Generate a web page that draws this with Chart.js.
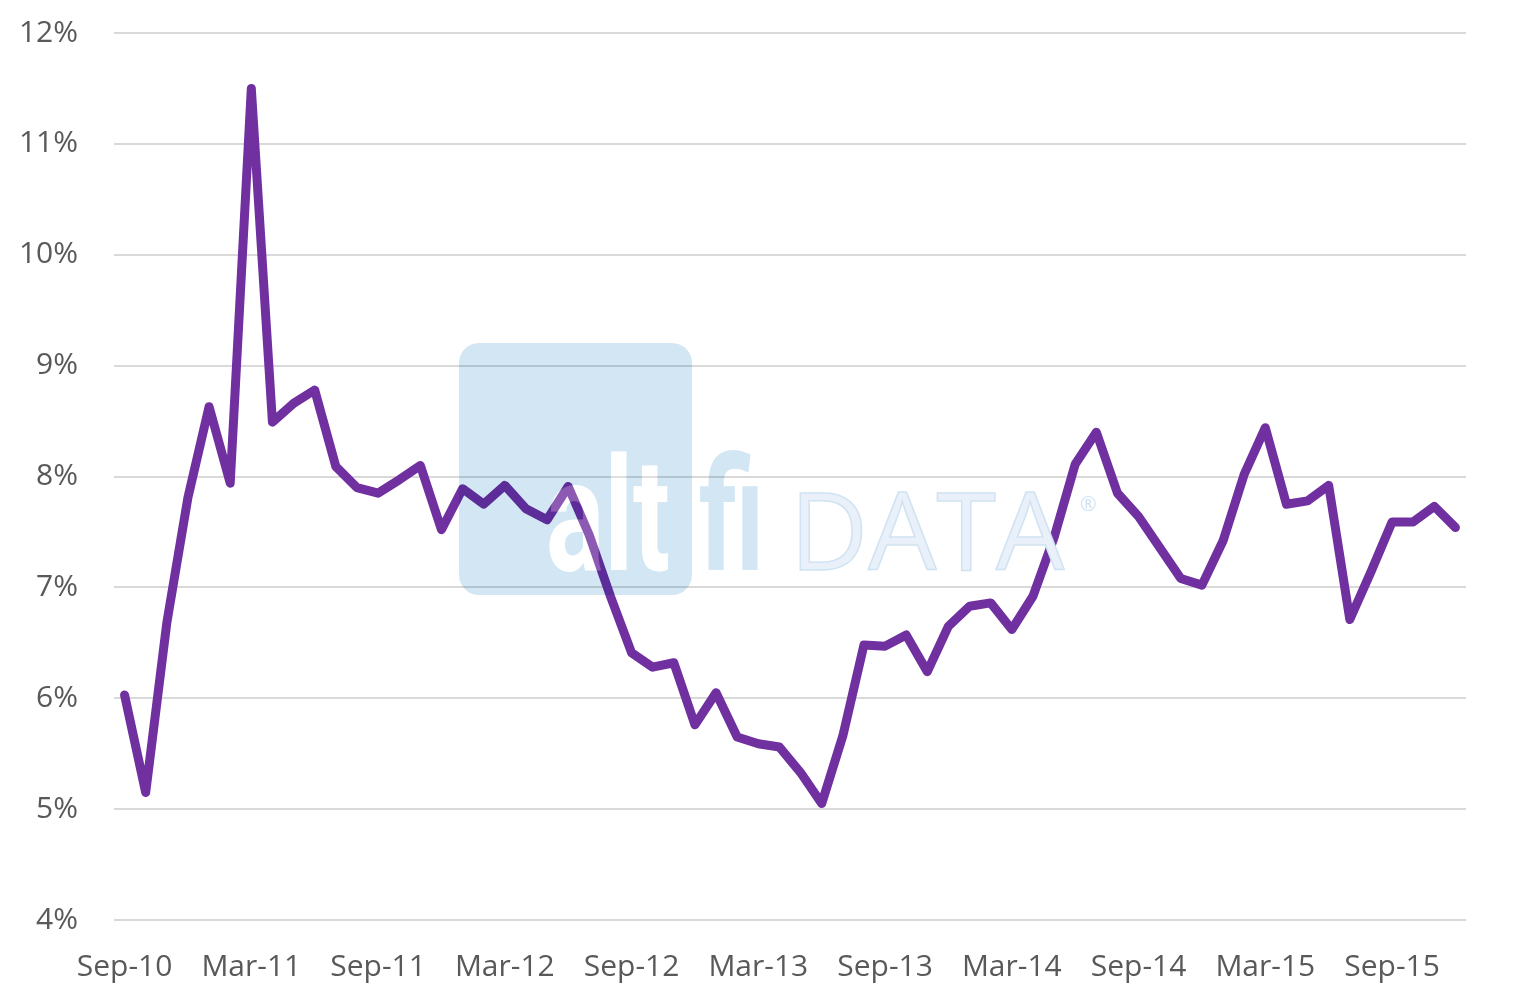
<!DOCTYPE html>
<html>
<head>
<meta charset="utf-8">
<script src="https://cdn.jsdelivr.net/npm/chart.js@4.4.1/dist/chart.umd.min.js"></script>
<style>
	html, body { margin: 0; padding: 0; background: #fff; }
	#myChart { display: block; }
</style>
</head>
<body>
<canvas id="myChart" width="1528" height="997" style="width:1528px;height:997px"></canvas>
<script>
	// monthly data, Sep-10 .. Dec-15
	const months = ['Sep-10','Oct-10','Nov-10','Dec-10',
		'Jan-11','Feb-11','Mar-11','Apr-11','May-11','Jun-11','Jul-11','Aug-11','Sep-11','Oct-11','Nov-11','Dec-11',
		'Jan-12','Feb-12','Mar-12','Apr-12','May-12','Jun-12','Jul-12','Aug-12','Sep-12','Oct-12','Nov-12','Dec-12',
		'Jan-13','Feb-13','Mar-13','Apr-13','May-13','Jun-13','Jul-13','Aug-13','Sep-13','Oct-13','Nov-13','Dec-13',
		'Jan-14','Feb-14','Mar-14','Apr-14','May-14','Jun-14','Jul-14','Aug-14','Sep-14','Oct-14','Nov-14','Dec-14',
		'Jan-15','Feb-15','Mar-15','Apr-15','May-15','Jun-15','Jul-15','Aug-15','Sep-15','Oct-15','Nov-15','Dec-15'];

	const rates = [6.03, 5.15, 6.68, 7.81,
		8.63, 7.94, 11.50, 8.49, 8.66, 8.78, 8.09, 7.90, 7.85, 7.97, 8.10, 7.52,
		7.89, 7.75, 7.92, 7.71, 7.61, 7.91, 7.47, 6.92, 6.41, 6.28, 6.32, 5.76,
		6.05, 5.65, 5.59, 5.56, 5.33, 5.05, 5.66, 6.48, 6.47, 6.57, 6.24, 6.65,
		6.83, 6.86, 6.62, 6.92, 7.45, 8.11, 8.40, 7.85, 7.64, 7.36, 7.08, 7.02,
		7.42, 8.02, 8.44, 7.75, 7.78, 7.92, 6.71, 7.14, 7.59, 7.59, 7.73, 7.54];

	const xTickLabels = ['Sep-10','Mar-11','Sep-11','Mar-12','Sep-12','Mar-13','Sep-13','Mar-14','Sep-14','Mar-15','Sep-15'];
	const yMin = 4, yMax = 12, yStep = 1;

	const axisFont = { family: '"Open Sans", sans-serif', size: 30 };
	const textColor = '#595959';

	function roundRect(ctx, x, y, w, h, r) {
		ctx.beginPath();
		ctx.moveTo(x + r, y);
		ctx.arcTo(x + w, y, x + w, y + h, r);
		ctx.arcTo(x + w, y + h, x, y + h, r);
		ctx.arcTo(x, y + h, x, y, r);
		ctx.arcTo(x, y, x + w, y, r);
		ctx.closePath();
	}

	// faint "altfi DATA" logo laid over the plot
	const watermark = {
		id: 'watermark',
		afterDraw(chart) {
			const a = chart.chartArea;
			const W = a.right - a.left, H = a.bottom - a.top;
			const px = f => a.left + f * W;
			const py = f => a.top + f * H;
			const ctx = chart.ctx;

			const boxX = px(0.2552), boxY = py(0.3495), boxW = px(0.4275) - boxX, boxH = py(0.6336) - boxY;
			const base = py(0.6054);
			const bold = 'bold 158px Roboto, sans-serif';

			// box with the "alt" letters cut out
			const off = document.createElement('canvas');
			off.width = chart.width; off.height = chart.height;
			const o = off.getContext('2d');
			o.fillStyle = '#d2e7f3';
			roundRect(o, boxX, boxY, boxW, boxH, 20);
			o.fill();
			o.globalCompositeOperation = 'destination-out';
			o.font = bold;
			o.fillText('alt', px(0.3195), base, px(0.4112) - px(0.3195));

			ctx.save();
			ctx.globalCompositeOperation = 'multiply';
			ctx.drawImage(off, 0, 0);

			ctx.font = bold;
			ctx.fillStyle = '#d2e7f3';
			ctx.fillText('fi', px(0.4326), base, px(0.4808) - px(0.4326));

			ctx.globalCompositeOperation = 'source-over';
			ctx.fillStyle = 'rgba(255,255,255,0.2)';
			ctx.fillText('alt', px(0.3195), base, px(0.4112) - px(0.3195));

			ctx.font = '400 108px "Open Sans", sans-serif';
			ctx.fillStyle = '#e9f0f9';
			ctx.strokeStyle = '#d0e3f2';
			ctx.lineWidth = 1.5;
			const dx = px(0.4999), dw = px(0.7085) - dx;
			ctx.fillText('DATA', dx, base, dw);
			ctx.strokeText('DATA', dx, base, dw);

			ctx.font = '20px "Open Sans", sans-serif';
			ctx.fillStyle = '#cfe3f2';
			ctx.fillText('\u00AE', px(0.7145), py(0.5385));
			ctx.restore();
		}
	};

	window.onload = () => {
		const ctx = document.getElementById('myChart').getContext('2d');
		new Chart(ctx, {
			type: 'line',
			data: {
				labels: months,
				datasets: [{
					label: 'Rate',
					data: rates,
					borderColor: '#7030a0',
					borderWidth: 9,
					borderJoinStyle: 'round',
					borderCapStyle: 'round',
					pointRadius: 0,
					tension: 0,
					fill: false
				}]
			},
			options: {
				responsive: false,
				animation: false,
				layout: { padding: { left: 0, right: 62, top: 33, bottom: 0 } },
				plugins: {
					legend: { display: false },
					tooltip: { enabled: false }
				},
				scales: {
					x: {
						offset: true,
						grid: { display: false },
						border: { display: false },
						ticks: {
							autoSkip: false,
							maxRotation: 0,
							minRotation: 0,
							padding: 21,
							color: textColor,
							font: axisFont,
							callback: function (val, i) {
								const lbl = months[i];
								return xTickLabels.includes(lbl) ? lbl : null;
							}
						},
						afterFit: scale => { scale.height = 77; }
					},
					y: {
						min: yMin,
						max: yMax,
						grid: { color: '#d9d9d9', lineWidth: 2, drawTicks: false },
						border: { display: false },
						ticks: {
							stepSize: yStep,
							padding: 36,
							color: textColor,
							font: axisFont,
							callback: v => v + '%'
						},
						afterFit: scale => {
							scale.width = 114;
							// tick padding would otherwise push the plot top down
							scale.paddingTop = 0;
							scale.paddingBottom = 0;
						}
					}
				}
			},
			plugins: [watermark]
		});
	};
</script>
</body>
</html>
